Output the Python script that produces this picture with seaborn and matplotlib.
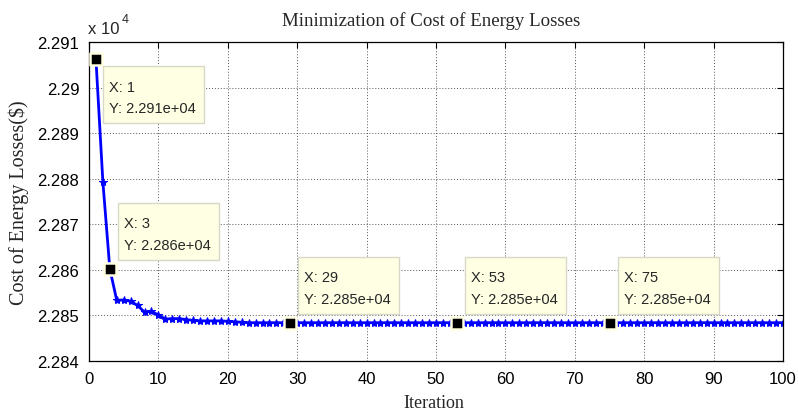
import numpy as np
import pandas as pd
import matplotlib
matplotlib.use("Agg")
import matplotlib.pyplot as plt
from matplotlib.patches import Rectangle
from matplotlib.transforms import IdentityTransform
import seaborn as sns

# Cost of energy losses ($) per iteration of the optimiser
iterations = list(range(1, 101))
cost = [
    22906.2, 22879.3, 22860.2, 22853.3, 22853.4, 22853.1, 22852.2, 22850.7, 22850.9, 22850.1,
    22849.2, 22849.3, 22849.3, 22849.1, 22848.9, 22848.8, 22848.8, 22848.8, 22848.8, 22848.7,
    22848.6, 22848.5, 22848.4, 22848.4, 22848.4, 22848.4, 22848.4, 22848.4, 22848.4, 22848.4,
    22848.4, 22848.4, 22848.4, 22848.4, 22848.4, 22848.4, 22848.4, 22848.4, 22848.4, 22848.4,
    22848.4, 22848.4, 22848.4, 22848.4, 22848.4, 22848.4, 22848.4, 22848.4, 22848.4, 22848.4,
    22848.4, 22848.4, 22848.4, 22848.4, 22848.4, 22848.4, 22848.4, 22848.4, 22848.4, 22848.4,
    22848.4, 22848.4, 22848.4, 22848.4, 22848.4, 22848.4, 22848.4, 22848.4, 22848.4, 22848.4,
    22848.4, 22848.4, 22848.4, 22848.4, 22848.4, 22848.4, 22848.4, 22848.4, 22848.4, 22848.4,
    22848.4, 22848.4, 22848.4, 22848.4, 22848.4, 22848.4, 22848.4, 22848.4, 22848.4, 22848.4,
    22848.4, 22848.4, 22848.4, 22848.4, 22848.4, 22848.4, 22848.4, 22848.4, 22848.4, 22848.4,
]
# Highlighted iterations and where their label boxes sit ("below" / "above")
tip_iters = [1, 3, 29, 53, 75]
tip_side = ["below", "above", "above", "above", "above"]

x_ticks = list(range(0, 101, 10))
y_ticks = [2.284, 2.285, 2.286, 2.287, 2.288, 2.289, 2.290, 2.291]
y_tick_labels = ["2.284", "2.285", "2.286", "2.287", "2.288", "2.289", "2.29", "2.291"]

SCALE = 1e4
df = pd.DataFrame({"Iteration": iterations, "Cost": np.array(cost) / SCALE})

sns.set_style("white")
plt.rcParams["font.family"] = ["Liberation Sans", "DejaVu Sans"]
SERIF = ["Liberation Serif", "DejaVu Serif"]

W, H = 798, 414
fig = plt.figure(figsize=(W / 100, H / 100), dpi=100)
ax = fig.add_axes([89 / W, 1 - 362 / H, (783 - 89) / W, (362 - 43) / H])

sns.lineplot(data=df, x="Iteration", y="Cost", ax=ax, color="#0000FF",
             linewidth=2.0, marker="*", markersize=6,
             markeredgecolor="#0000FF", markerfacecolor="#0000FF")

# Highlighted points
tips = df[df["Iteration"].isin(tip_iters)]
sns.scatterplot(data=tips, x="Iteration", y="Cost", ax=ax, marker="s", s=80,
                color="black", edgecolor="#FFFFE1", linewidth=1.8, zorder=5)

ax.set_xlim(0, 100)
ax.set_ylim(2.284, 2.291)

# Label boxes drawn in pixel units next to each highlighted point
BOX_W, BOX_H = 101, 57
for it, side in zip(tip_iters, tip_side):
    val = cost[it - 1]
    px, py = ax.transData.transform((it, val / SCALE))
    if side == "below":
        left, top = px + 7, py - 7
    else:
        left, top = px + 8, py + 9 + BOX_H
    ax.add_patch(Rectangle((left, top - BOX_H), BOX_W, BOX_H, transform=IdentityTransform(),
                           facecolor="#FFFFE4", edgecolor="#D8D8C8", linewidth=1.0,
                           zorder=6, clip_on=False))
    ax.text(left + 6, top - 24.5, f"X: {it}", transform=IdentityTransform(),
            fontsize=10.5, ha="left", va="baseline", zorder=7)
    ax.text(left + 6, top - 46, f"Y: {val:.3e}", transform=IdentityTransform(),
            fontsize=10.5, ha="left", va="baseline", zorder=7)

ax.set_xticks(x_ticks)
ax.set_xticklabels([str(t) for t in x_ticks])
ax.set_yticks(y_ticks)
ax.set_yticklabels(y_tick_labels)
ax.tick_params(axis="both", direction="in", length=4, width=0.8, labelsize=12,
               top=True, right=True, colors="black")
ax.tick_params(axis="y", pad=7)
ax.tick_params(axis="x", pad=7)
ax.grid(True, color="#555555", linestyle=(0, (1, 2)), linewidth=0.7)
for s in ax.spines.values():
    s.set_color("black")
    s.set_linewidth(0.9)

ax.set_xlabel("Iteration", family=SERIF, fontsize=13)
ax.xaxis.set_label_coords((433.5 - 89) / 694, (362 - 395) / 319)
ax.set_ylabel("Cost of Energy Losses($)", family=SERIF, fontsize=14.5)
ax.yaxis.set_label_coords((29 - 89) / 694, 0.5)
fig.text(431.5 / W, 1 - 25.5 / H, "Minimization of Cost of Energy Losses",
         family=SERIF, fontsize=13.6, ha="center", va="baseline")

# Axis exponent marker
fig.text(88 / W, 1 - 34 / H, "x 10", fontsize=12, ha="left", va="baseline")
fig.text(122 / W, 1 - 23 / H, "4", fontsize=9, ha="left", va="baseline")

fig.savefig("out.png", dpi=100)
